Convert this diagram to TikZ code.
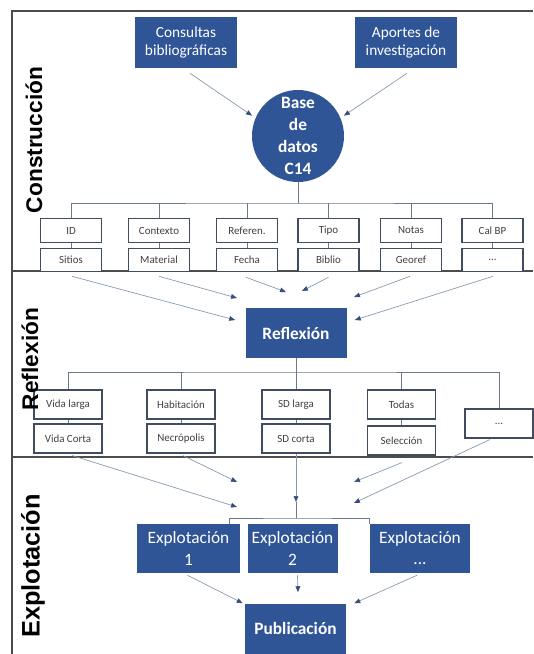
\documentclass[tikz,border=0pt]{standalone}
\usepackage{fontspec}
\setmainfont{Carlito}
\newfontfamily\phasefont{Liberation Sans}
\usetikzlibrary{arrows.meta,positioning}

\definecolor{boxblue}{RGB}{47,85,151}
\definecolor{itemedge}{RGB}{64,76,96}
\definecolor{linkblue}{RGB}{132,151,176}
\definecolor{tipblue}{RGB}{52,78,128}

\begin{document}
\begin{tikzpicture}[
  x=0.75pt, y=-0.75pt,
  >={Triangle[length=4.5pt,width=3.5pt,color=tipblue]},
  darkbox/.style={fill=boxblue, text=white, align=center, inner sep=1pt},
  item/.style={draw=itemedge, line width=0.8pt, fill=white, text=black!75,
               minimum width=45.75pt, minimum height=17.6pt, inner sep=0pt,
               font=\fontsize{8.2}{9}\selectfont},
  choice/.style={item, minimum width=51pt, minimum height=21.75pt},
  link/.style={->, draw=linkblue, line width=0.5pt},
  branch/.style={draw=linkblue!80!black, line width=0.6pt},
  phase/.style={rotate=90, font=\phasefont\bfseries\fontsize{17}{20}\selectfont},
  frame/.style={draw=black!70, line width=1pt},
]
\useasboundingbox (0,0) rectangle (533,654);

% marco
\draw[frame] (12,654) -- (12,11) -- (533,11);
\draw[frame] (12,271) -- (533,271);
\draw[frame] (12,457) -- (533,457);

% construccion
\node[darkbox, minimum width=76.5pt, minimum height=38.25pt,
      font=\fontsize{11.5}{13.5}\selectfont] (cons) at (186,42.5) {Consultas\\bibliográficas};
\node[darkbox, minimum width=76.5pt, minimum height=38.25pt,
      font=\fontsize{11.5}{13.5}\selectfont] (aport) at (406,42.5) {Aportes de\\investigación};
\node[darkbox, circle, minimum size=69pt,
      font=\bfseries\fontsize{13}{16.5}\selectfont] (db) at (298,136) {Base\\de\\datos\\C14};

\node[item] (c1) at (71,230.5) {ID};
\node[item] (c2) at (159,230.5) {Contexto};
\node[item] (c3) at (247,230.5) {Referen.};
\node[item] (c4) at (328.5,230.5) {Tipo};
\node[item] (c5) at (411,230.5) {Notas};
\node[item] (c6) at (492.5,230.5) {Cal BP};
\node[item, below=3.75pt of c1] (d1) {Sitios};
\node[item, below=3.75pt of c2] (d2) {Material};
\node[item, below=3.75pt of c3] (d3) {Fecha};
\node[item, below=3.75pt of c4] (d4) {Biblio};
\node[item, below=3.75pt of c5] (d5) {Georef};
\node[item, below=3.75pt of c6] (d6) {...};

\draw[link, shorten >=3pt] ([shift={(4,5)}]cons.south) -- (db.157);
\draw[link, shorten >=3pt] ([shift={(1,5)}]aport.south) -- (db.23);

\coordinate (hub1) at (298,203);
\draw[branch] (db) -- (hub1);
\draw[branch] (c1.north) |- (hub1) -| (c6.north);
\foreach \n in {2,...,5} \draw[branch] (c\n.north) -- (c\n.north |- hub1);
\foreach \n in {1,...,6} \draw[branch] (c\n) -- (d\n);

% reflexion
\node[darkbox, minimum width=75.75pt, minimum height=37pt,
      font=\bfseries\fontsize{13}{15}\selectfont] (refl) at (296,333) {Reflexión};

\coordinate (inMat) at (237,298);
\coordinate (inFecha) at (286,292);
\coordinate (inBiblio) at (302,291);
\coordinate (inGeoref) at (354,297);
\draw[link] ([shift={(1,4)}]d1.south) -- ([shift={(-10,-13)}]refl.west);
\draw[link] ([shift={(0,4)}]d2.south) -- (inMat);
\draw[link] ([shift={(-1,5)}]d3.south) -- (inFecha);
\draw[link] ([shift={(0,5)}]d4.south) -- (inBiblio);
\draw[link] ([shift={(-1,4)}]d5.south) -- (inGeoref);
\draw[link] ([shift={(0.5,4)}]d6.south) -- ([shift={(8,-13)}]refl.east);

\node[choice] (r1) at (68,404.5) {Vida larga};
\node[choice] (r2) at (181,404.5) {Habitación};
\node[choice] (r3) at (296,404.5) {SD larga};
\node[choice] (r4) at (401.5,404.5) {Todas};
\node[choice] (r5) at (499,423.5) {...};
\node[choice] (s1) at (68,438.5) {Vida Corta};
\node[choice] (s2) at (181,438.5) {Necrópolis};
\node[choice] (s3) at (296,438.5) {SD corta};
\node[choice] (s4) at (401.5,440.5) {Selección};

\coordinate (hub2) at (296,372);
\draw[branch] (refl) -- (hub2);
\draw[branch] (r1.north) |- (hub2) -| (r5.north);
\foreach \n in {2,3,4} \draw[branch] (r\n.north) -- (r\n.north |- hub2);
\foreach \n in {1,...,4} \draw[branch] (r\n) -- (s\n);

% explotacion
\node[darkbox, minimum width=77.25pt, minimum height=36.75pt,
      font=\fontsize{13}{15.8}\selectfont] (e1) at (188.5,548.5) {Explotación\\1};
\node[darkbox, minimum width=67.5pt, minimum height=36.75pt,
      font=\fontsize{13}{15.8}\selectfont] (e2) at (292.5,548.5) {Explotación\\2};
\node[darkbox, minimum width=75pt, minimum height=36.75pt,
      font=\fontsize{13}{15.8}\selectfont] (e3) at (420,548.5) {Explotación\\...};
\node[darkbox, minimum width=75.75pt, minimum height=37.5pt,
      font=\bfseries\fontsize{13}{15}\selectfont] (pub) at (295.5,628.5) {Publicación};

\coordinate (inVida) at (237,507);
\coordinate (inNecro) at (237,482);
\coordinate (tipSD) at (296,502);
\coordinate (inSelec) at (354,482);
\coordinate (inOtros) at (354,503);
\draw[link] ([shift={(4,2)}]s1.south) -- (inVida);
\draw[link] ([shift={(2,2)}]s2.south) -- (inNecro);
\draw[link] (s3) -- (tipSD);
\draw[link] ([shift={(0.5,7)}]s4.south) -- (inSelec);
\draw[link] ([shift={(-9,1)}]r5.south) -- (inOtros);

\coordinate (hub3) at (296,518);
\draw[branch] (tipSD) -- (hub3);
\draw[branch] ([xshift=31pt]e1.north) |- (hub3) -| (e3.north west);

\draw[link] ([shift={(-1,2)}]e1.south) -- ([shift={(-2,0)}]pub.north west);
\draw[link] ([shift={(5,2)}]e2.south) -- ([shift={(2.5,-11)}]pub.north);
\draw[link] ([shift={(-3,2)}]e3.south) -- ([shift={(8,0)}]pub.north east);

% fases
\node[phase] (lcons) at (34,140) {Construcción};
\node[phase] (lrefl) at (30,359) {Reflexión};
\node[phase, font=\phasefont\bfseries\fontsize{19}{22}\selectfont] (lexpl) at (33,566) {Explotación};
\end{tikzpicture}
\end{document}
